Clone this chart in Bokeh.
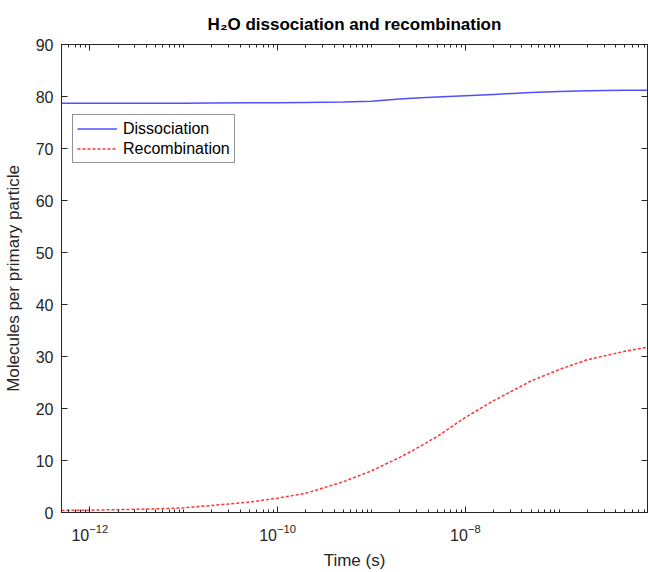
from bokeh.plotting import figure
from bokeh.models import FixedTicker, LinearAxis, LogAxis, Legend, LegendItem, Range1d
from bokeh.embed import file_html
from bokeh.resources import INLINE

# Data
time_s = [5e-13, 1e-12, 2e-12, 5e-12, 1e-11, 2e-11, 5e-11, 1e-10, 2e-10, 5e-10,
          1e-9, 2e-9, 3e-9, 5e-9, 1e-8, 2e-8, 5e-8, 1e-7, 2e-7, 5e-7, 8.7e-7]
dissociation = [78.7, 78.7, 78.7, 78.7, 78.72, 78.75, 78.78, 78.8, 78.85, 78.93,
                79.1, 79.5, 79.7, 79.9, 80.15, 80.4, 80.75, 80.95, 81.1, 81.18, 81.2]
recombination = [0.4, 0.45, 0.55, 0.7, 0.9, 1.35, 2.0, 2.75, 3.7, 5.9,
                 8.0, 10.6, 12.3, 14.6, 18.3, 21.5, 25.3, 27.5, 29.4, 31.0, 31.8]
x_major_ticks = [1e-12, 1e-10, 1e-8]
y_ticks = [0, 10, 20, 30, 40, 50, 60, 70, 80, 90]

x_start, x_end = 5e-13, 8.7e-7
minor = []
for d in range(-13, -5):
    for k in range(1, 10):
        v = k * 10.0 ** d
        if x_start <= v <= x_end and v not in x_major_ticks:
            minor.append(v)

AX = "#262626"
FONT = "Liberation Sans"

p = figure(width=648, height=572, x_axis_type="log",
           x_range=Range1d(x_start, x_end), y_range=Range1d(0, 90),
           output_backend="svg", toolbar_location=None,
           min_border_left=61, min_border_right=1, min_border_top=44, min_border_bottom=60)

r1 = p.line(time_s, dissociation, line_color="#5050ff", line_width=1.5)
r2 = p.line(time_s, recombination, line_color="#ff3333", line_width=1.5, line_dash="3 2")

p.title.text = "H₂O dissociation and recombination"
p.title.align = "center"
p.title.text_font = FONT
p.title.text_font_size = "17px"
p.title.text_font_style = "bold"
p.title.text_color = "black"
p.title.standoff = 21

p.xgrid.visible = False
p.ygrid.visible = False
p.outline_line_color = AX
p.outline_line_width = 1

xt = FixedTicker(ticks=x_major_ticks, minor_ticks=minor)
yt = FixedTicker(ticks=y_ticks)

for ax in p.xaxis:
    ax.ticker = xt
    ax.axis_label = "Time (s)"
for ax in p.yaxis:
    ax.ticker = yt
    ax.axis_label = "Molecules per primary particle"

for ax in list(p.xaxis) + list(p.yaxis):
    ax.axis_line_color = AX
    ax.major_tick_line_color = AX
    ax.minor_tick_line_color = AX
    ax.major_tick_in = 6
    ax.major_tick_out = 0
    ax.minor_tick_in = 3
    ax.minor_tick_out = 0
    ax.major_label_text_font = FONT
    ax.major_label_text_font_size = "16px"
    ax.major_label_text_color = AX
    ax.axis_label_text_font = FONT
    ax.axis_label_text_font_size = "17px"
    ax.axis_label_text_font_style = "normal"
    ax.axis_label_text_color = AX

p.yaxis.minor_tick_line_color = None
p.yaxis.major_label_standoff = 8
p.yaxis.axis_label_standoff = 10
p.xaxis.major_label_standoff = 11
p.xaxis.axis_label_standoff = 7

# Box axes (top and right) with hidden labels
top = LogAxis(ticker=xt, axis_line_color=AX, major_tick_line_color=AX, minor_tick_line_color=AX,
              major_tick_in=6, major_tick_out=0, minor_tick_in=3, minor_tick_out=0,
              major_label_text_font_size="1px", major_label_text_color=None,
              major_label_standoff=0)
right = LinearAxis(ticker=yt, axis_line_color=AX, major_tick_line_color=AX, minor_tick_line_color=None,
                   major_tick_in=6, major_tick_out=0,
                   major_label_text_font_size="1px", major_label_text_color=None,
                   major_label_standoff=0)
p.add_layout(top, "above")
p.add_layout(right, "right")

legend = Legend(items=[LegendItem(label="Dissociation", renderers=[r1]),
                       LegendItem(label="Recombination", renderers=[r2])],
                location=(11, 349))
legend.label_text_font = FONT
legend.label_text_font_size = "16px"
legend.label_text_color = "black"
legend.glyph_width = 40
legend.glyph_height = 19
legend.label_height = 19
legend.label_standoff = 6
legend.padding = 4
legend.spacing = 1
legend.margin = 0
legend.border_line_color = AX
legend.border_line_width = 1
p.add_layout(legend, "center")

open("out.html", "w").write(file_html(p, INLINE))
